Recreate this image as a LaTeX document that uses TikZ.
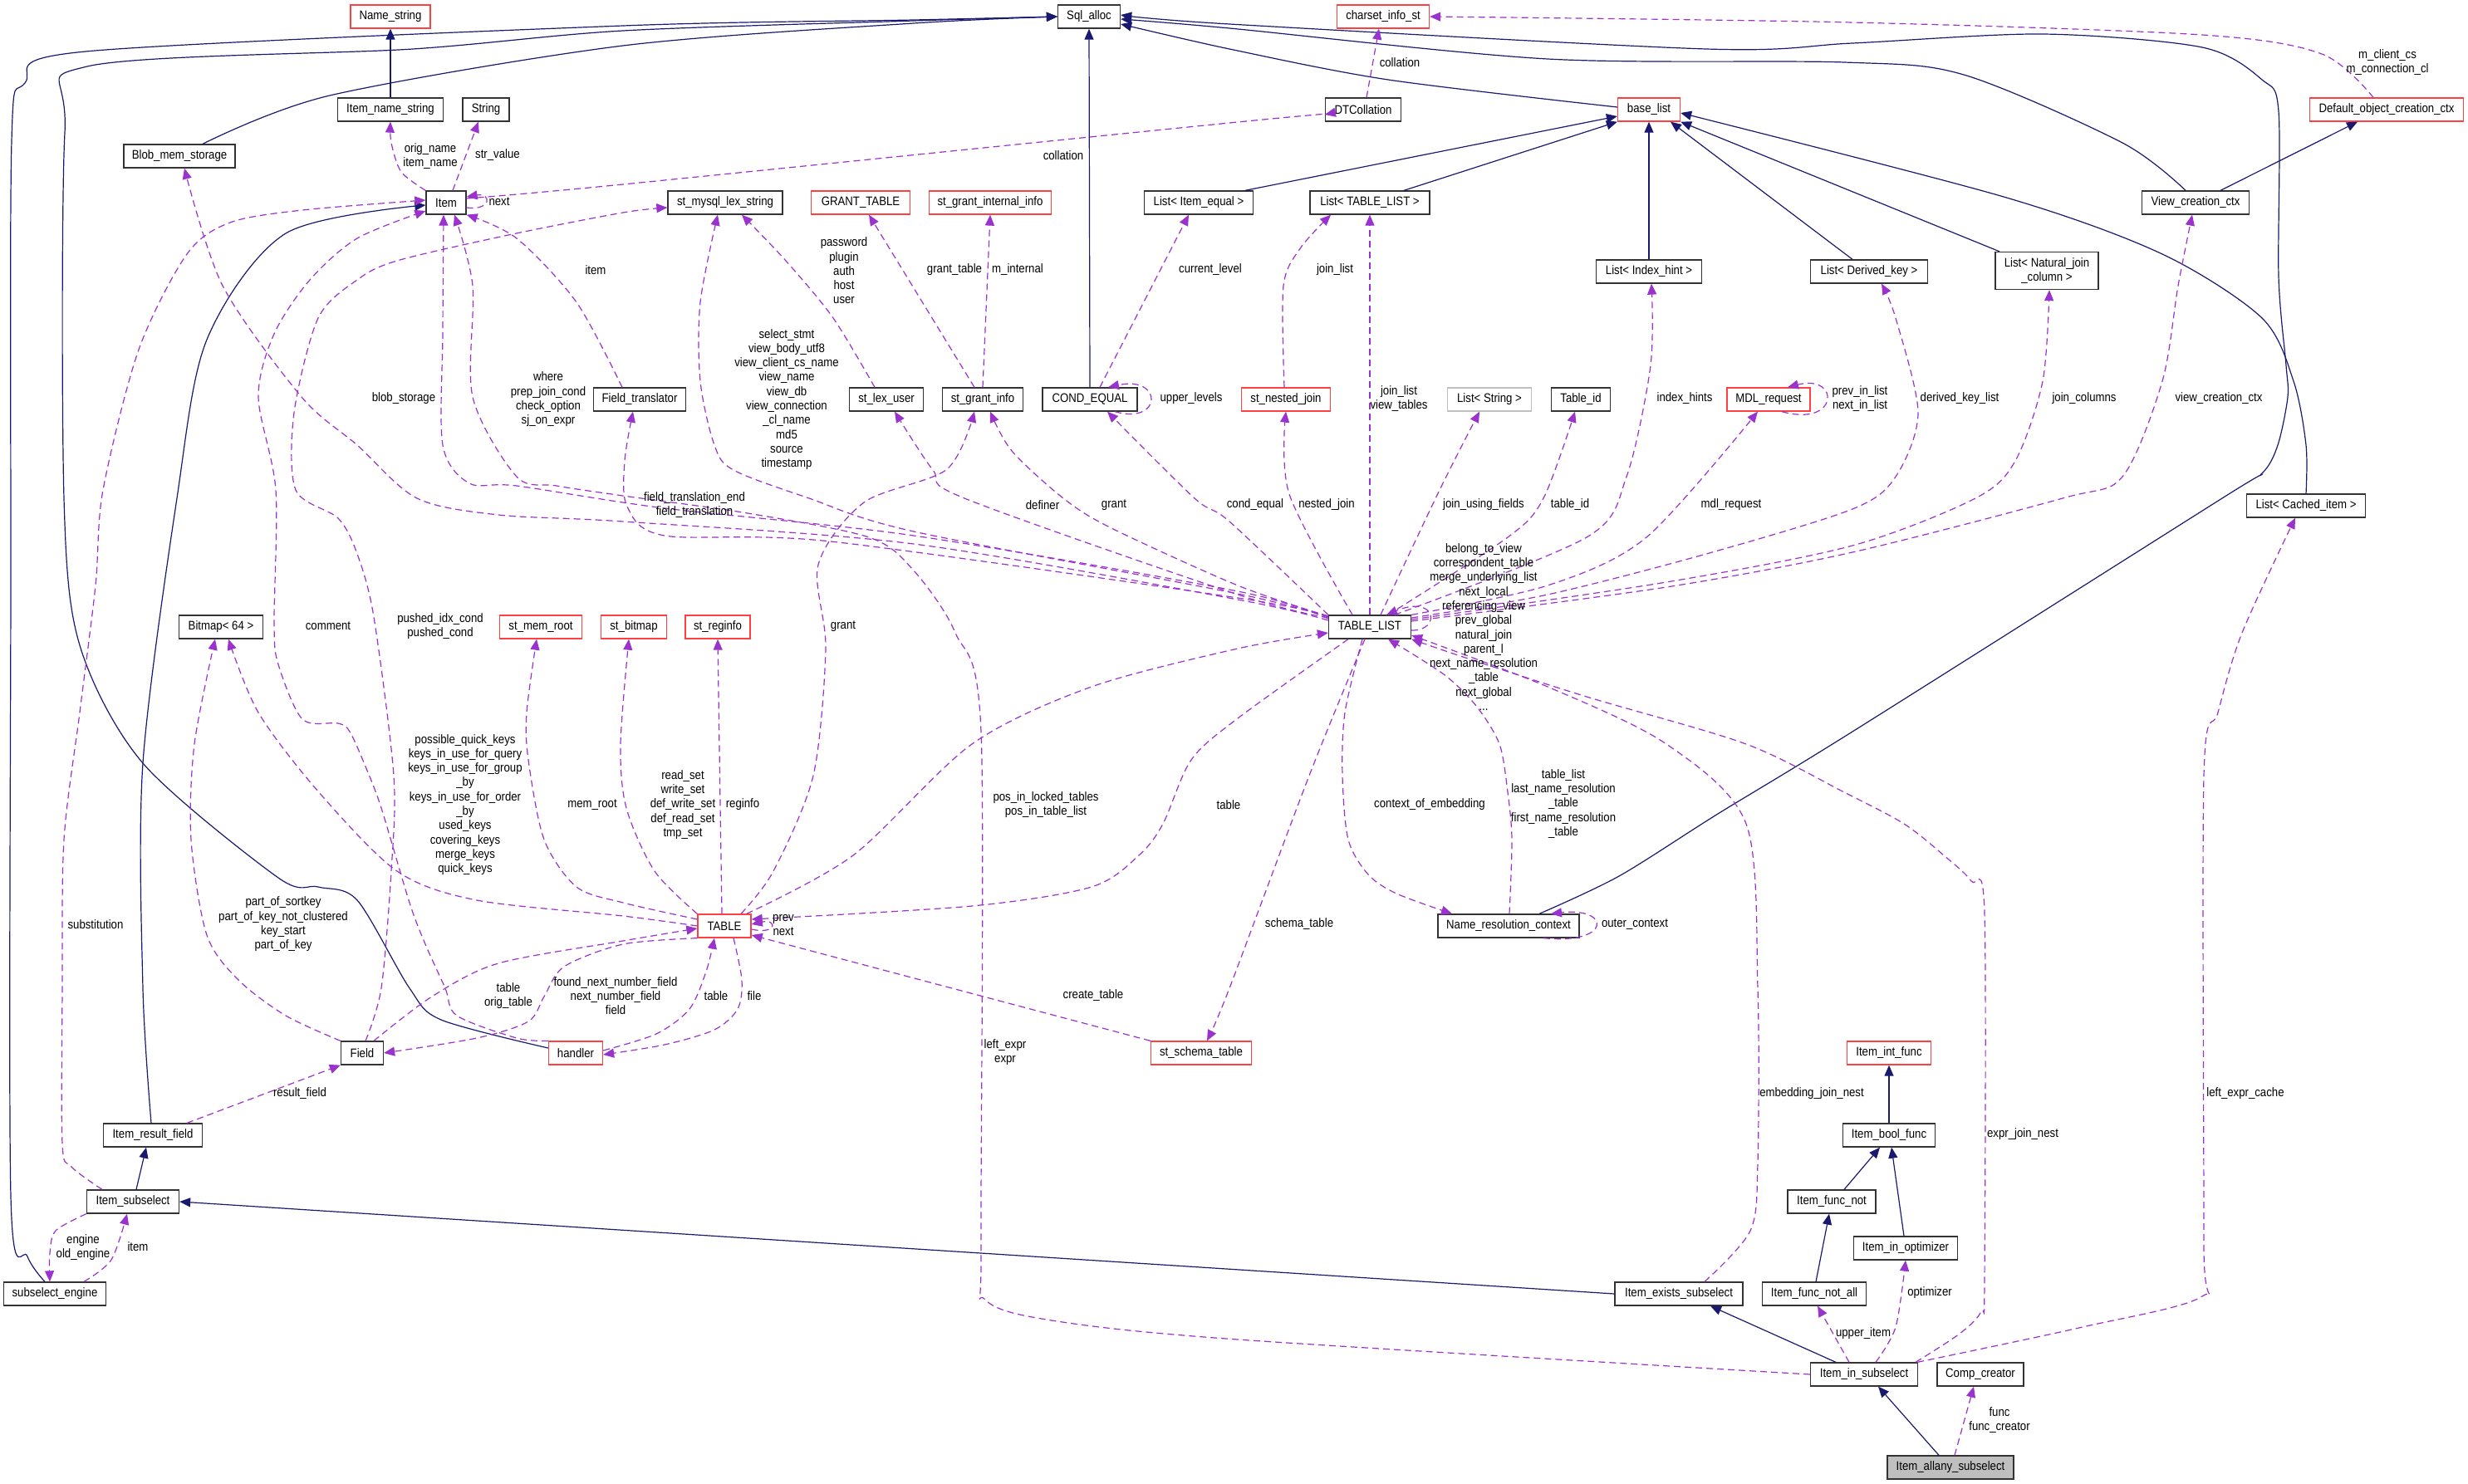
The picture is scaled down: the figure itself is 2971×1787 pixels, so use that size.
\documentclass[tikz,border=0pt]{standalone}
\usepackage{fontspec}
\setmainfont{Liberation Sans}[FakeStretch=0.88]
\usetikzlibrary{arrows.meta}
\definecolor{inhc}{HTML}{191970}
\definecolor{depc}{HTML}{9A32CD}
\definecolor{redb}{HTML}{FF4040}
\definecolor{grayb}{HTML}{BFBFBF}
\newcommand\dgfont{\fontsize{15}{17.3}\selectfont}
\begin{document}
\begin{tikzpicture}[x=1pt,y=-1pt,
  box/.style={draw=black!80, line width=1.3pt, fill=white, minimum height=28pt, inner sep=1pt, text=black, font=\dgfont, align=center},
  rbox/.style={box, draw=redb},
  inh/.style={draw=inhc, line width=1.2pt, -{Triangle[length=13pt,width=11pt]}},
  dep/.style={draw=depc, line width=1.2pt, dash pattern=on 8pt off 5pt, -{Triangle[length=13pt,width=11pt]}},
  lbl/.style={align=center, inner sep=0pt, font=\dgfont, text=black}]
\fill[white] (0,0) rectangle (2971,1787);
\useasboundingbox (0,0) rectangle (2971,1787);

% ---------------- nodes ----------------
\node[rbox, minimum width=96pt] (NameStr) at (470,20) {Name\_string};
\node[box, minimum width=75pt] (SqlAlloc) at (1311,20) {Sql\_alloc};
\node[rbox, minimum width=111pt] (Charset) at (1665,20) {charset\_info\_st};
\node[box, minimum width=127pt] (ItemNameStr) at (470,132) {Item\_name\_string};
\node[box, minimum width=56pt] (StringN) at (585,132) {String};
\node[box, minimum width=91pt] (DTColl) at (1641,132) {DTCollation};
\node[rbox, minimum width=75pt] (BaseList) at (1985,132) {base\_list};
\node[rbox, minimum width=185pt] (DOCC) at (2873,132) {Default\_object\_creation\_ctx};
\node[box, minimum width=134pt] (Blob) at (216,188) {Blob\_mem\_storage};
\node[box, minimum width=48pt] (ItemN) at (537,244) {Item};
\node[box, minimum width=138pt] (StMysql) at (873,244) {st\_mysql\_lex\_string};
\node[rbox, minimum width=119pt] (GrantTable) at (1036,244) {GRANT\_TABLE};
\node[rbox, minimum width=147pt] (StGrantInt) at (1192,244) {st\_grant\_internal\_info};
\node[box, minimum width=131pt] (LItemEq) at (1443,244) {List< Item\_equal >};
\node[box, minimum width=144pt] (LTL) at (1649,244) {List< TABLE\_LIST >};
\node[box, minimum width=129pt] (VCC) at (2643,244) {View\_creation\_ctx};
\node[box, minimum width=127pt] (LIH) at (1985,327) {List< Index\_hint >};
\node[box, minimum width=141pt] (LDK) at (2250,327) {List< Derived\_key >};
\node[box, minimum width=124pt, minimum height=45pt] (LNJ) at (2464,326) {List< Natural\_join\\\_column >};
\node[box, minimum width=111pt] (FieldTr) at (770,481) {Field\_translator};
\node[box, minimum width=89pt] (StLexUser) at (1067,481) {st\_lex\_user};
\node[box, minimum width=97pt] (StGrantInfo) at (1183,481) {st\_grant\_info};
\node[box, minimum width=114pt] (CondEq) at (1312,481) {COND\_EQUAL};
\node[rbox, minimum width=107pt] (StNested) at (1548,481) {st\_nested\_join};
\node[box, draw=grayb, minimum width=101pt] (LString) at (1793,481) {List< String >};
\node[box, minimum width=71pt] (TableId) at (1903,481) {Table\_id};
\node[rbox, minimum width=100pt] (MDL) at (2129,481) {MDL\_request};
\node[box, minimum width=143pt] (LCI) at (2776,609) {List< Cached\_item >};
\node[box, minimum width=101pt] (Bitmap) at (266,755) {Bitmap< 64 >};
\node[rbox, minimum width=99pt] (StMemRoot) at (651,755) {st\_mem\_root};
\node[rbox, minimum width=79pt] (StBitmap) at (763,755) {st\_bitmap};
\node[rbox, minimum width=78pt] (StReginfo) at (864,755) {st\_reginfo};
\node[box, minimum width=99pt] (TableList) at (1649,755) {TABLE\_LIST};
\node[rbox, minimum width=64pt] (TableN) at (872,1115) {TABLE};
\node[box, minimum width=170pt] (NRC) at (1816,1115) {Name\_resolution\_context};
\node[box, minimum width=51pt] (FieldN) at (436,1268) {Field};
\node[rbox, minimum width=65pt] (Handler) at (693,1268) {handler};
\node[rbox, minimum width=121pt] (StSchema) at (1446,1268) {st\_schema\_table};
\node[rbox, minimum width=101pt] (IIntF) at (2274,1268) {Item\_int\_func};
\node[box, minimum width=119pt] (IRF) at (184,1367) {Item\_result\_field};
\node[box, minimum width=111pt] (IBF) at (2274,1367) {Item\_bool\_func};
\node[box, minimum width=111pt] (ISub) at (160,1447) {Item\_subselect};
\node[box, minimum width=106pt] (IFN) at (2205,1447) {Item\_func\_not};
\node[box, minimum width=125pt] (IIO) at (2294,1503) {Item\_in\_optimizer};
\node[box, minimum width=123pt] (SubEng) at (66,1558) {subselect\_engine};
\node[box, minimum width=154pt] (IES) at (2021,1558) {Item\_exists\_subselect};
\node[box, minimum width=125pt] (IFNA) at (2184,1558) {Item\_func\_not\_all};
\node[box, minimum width=129pt] (IIS) at (2244,1655) {Item\_in\_subselect};
\node[box, minimum width=104pt] (Comp) at (2384,1655) {Comp\_creator};
\node[box, fill=grayb, minimum width=152pt] (IAS) at (2348,1767) {Item\_allany\_subselect};

% ---------------- inheritance edges ----------------
\draw[inh] (ItemNameStr.north) -- (NameStr.south);
\draw[inh] plot[smooth] coordinates {([xshift=28pt]Blob.north) (397,115) (750,55) (1100,28) (SqlAlloc.west)};
\draw[inh] plot[smooth] coordinates {([xshift=-12pt]SubEng.north) (33,1513) (13,1440) (13,700) (14,170) (30,100) (103,62) (750,31) (1100,24) (SqlAlloc.west)};
\draw[inh] plot[smooth] coordinates {([yshift=6pt]Handler.west) (531,1228) (493,1190) (430,1084) (383,1068) (335,1057) (172,919) (96,777) (77,600) (78,160) (105,80) (497,59) (750,37) (1100,25) (SqlAlloc.west)};
\draw[inh] plot[smooth] coordinates {([xshift=-2pt]IRF.north) (172,1190) (172,919) (213,600) (249,409) (344,281) ([yshift=-3pt]ItemN.west)};
\draw[inh] ([xshift=4pt]ISub.north) -- ([xshift=-8pt]IRF.south);
\draw[inh] (IES.west) -- (ISub.east);
\draw[inh] (CondEq.north) -- (SqlAlloc.south);
\draw[inh] plot[smooth] coordinates {([yshift=3pt]BaseList.west) (1671,96) (1480,59) ([yshift=-9pt]SqlAlloc.east)};
\draw[inh] plot[smooth] coordinates {([xshift=-12pt]VCC.north) (2555,172) (2364,90) (2220,75) (1863,71) (1480,34) ([yshift=-3pt]SqlAlloc.east)};
\draw[inh] plot[smooth] coordinates {([xshift=37pt]NRC.north) (1949,1055) (2068,980) (2230,881) (2675,600) (2723,570) (2742,536) (2754,478) (2752,440) (2743,333) (2743,134) (2723,96) (2651,57) (2459,41) (2230,52) (2054,59) (1480,29) ([yshift=2pt]SqlAlloc.east)};
\draw[inh] ([xshift=56pt]LItemEq.north) -- ([yshift=-8pt]BaseList.west);
\draw[inh] ([xshift=41pt]LTL.north) -- (BaseList.south west);
\draw[inh] (LIH.north) -- (BaseList.south);
\draw[inh] ([xshift=-20pt]LDK.north) -- ([xshift=26pt]BaseList.south);
\draw[inh] ([xshift=-57pt]LNJ.north) -- (BaseList.south east);
\draw[inh] plot[smooth] coordinates {(LCI.north) (2776,536) (2761,459) (2723,383) (2603,306) (2412,237) ([yshift=-4pt]BaseList.east)};
\draw[inh] ([xshift=30pt]VCC.north) -- ([xshift=-35pt]DOCC.south);
\draw[inh] ([xshift=15pt]IFN.north) -- ([xshift=-11pt]IBF.south);
\draw[inh] ([xshift=2pt]IFNA.north) -- ([xshift=-3pt]IFN.south);
\draw[inh] ([xshift=-2pt]IIO.north) -- ([xshift=3pt]IBF.south);
\draw[inh] (IBF.north) -- (IIntF.south);
\draw[inh] ([xshift=-34pt]IIS.north) -- ([xshift=38pt]IES.south);
\draw[inh] ([xshift=-14pt]IAS.north) -- ([xshift=17pt]IIS.south);

% ---------------- usage edges ----------------
\draw[dep] plot[smooth] coordinates {(ItemN.north west) (483,207) (471,172) (ItemNameStr.south)};
\draw[dep] ([xshift=8pt]ItemN.north) -- ([xshift=-9pt]StringN.south);
\draw[dep] ([yshift=-6pt]ItemN.east) .. controls (592,254) and (592,232) .. ([yshift=7pt]ItemN.east);
\draw[dep] plot[smooth] coordinates {([yshift=5pt]ItemN.east) (750,222) (1490,147) ([yshift=-6pt]DTColl.west)};
\draw[dep] ([xshift=4pt]DTColl.north) -- ([xshift=-5pt]Charset.south);
\draw[dep] plot[smooth] coordinates {([xshift=-16pt]DOCC.north) (2795,65) (2651,42) (2230,27) (Charset.east)};
\draw[dep] plot[smooth] coordinates {([xshift=-21pt]FieldTr.north) (694,364) (622,287) (ItemN.south east)};
\draw[dep] plot[smooth] coordinates {([yshift=10pt]TableList.west) (1490,712) (1100,645) (800,612) (622,585) (565,582) (533,536) (533,400) ([xshift=-3pt]ItemN.south)};
\draw[dep] plot[smooth] coordinates {([yshift=8pt]TableList.west) (1490,722) (1100,655) (750,628) (600,620) (502,600) (430,536) (363,478) (268,344) ([xshift=6pt]Blob.south)};
\draw[dep] plot[smooth] coordinates {([yshift=12pt]TableList.west) (1490,715) (1100,640) (974,600) (883,566) (860,536) (843,459) (843,364) ([xshift=-9pt]StMysql.south)};
\draw[dep] plot[smooth] coordinates {([xshift=-14pt]StLexUser.north) (1003,383) (946,314) ([xshift=20pt]StMysql.south)};
\draw[dep] ([xshift=-10pt]StGrantInfo.north) -- ([xshift=10pt]GrantTable.south);
\draw[dep] (StGrantInfo.north) -- (StGrantInt.south);
\draw[dep] ([xshift=12pt]CondEq.north) -- ([xshift=-12pt]LItemEq.south);
\draw[dep] ([xshift=30pt]CondEq.south) .. controls (1400,512) and (1400,452) .. ([xshift=22pt]CondEq.north);
\draw[dep] plot[smooth] coordinates {([xshift=-2pt]StNested.north) (1545,344) (1566,298) ([xshift=-47pt]LTL.south)};
\draw[dep] (TableList.north) -- (LTL.south);
\draw[dep] plot[smooth] coordinates {([xshift=-21pt]TableList.north) (1552,595) (StNested.south)};
\draw[dep] plot[smooth] coordinates {(TableList.north west) (1480,628) (1438,600) ([xshift=21pt]CondEq.south)};
\draw[dep] plot[smooth] coordinates {([xshift=13pt]TableList.north) (1733,590) ([xshift=-12pt]LString.south)};
\draw[dep] plot[smooth] coordinates {([xshift=22pt]TableList.north) (1815,647) (1858,600) ([xshift=-7pt]TableId.south)};
\draw[dep] plot[smooth] coordinates {([xshift=30pt]TableList.north) (1910,647) (1958,574) (1987,440) ([xshift=3pt]LIH.south)};
\draw[dep] plot[smooth] coordinates {(TableList.north east) (1863,705) (1982,647) ([xshift=-13pt]MDL.south)};
\draw[dep] ([xshift=16pt]MDL.south) .. controls (2215,515) and (2215,450) .. ([xshift=23pt]MDL.north);
\draw[dep] plot[smooth] coordinates {([yshift=11pt]TableList.east) (1863,716) (2054,667) (2230,613) (2282,574) (2309,497) (2282,383) ([xshift=15pt]LDK.south)};
\draw[dep] plot[smooth] coordinates {([yshift=9pt]TableList.east) (2006,701) (2230,657) (2378,600) (2426,555) (2459,459) ([xshift=3pt]LNJ.south)};
\draw[dep] plot[smooth] coordinates {([yshift=7pt]TableList.east) (2006,707) (2230,665) (2483,600) (2555,574) (2603,459) (2622,344) ([xshift=-4pt]VCC.south)};
\draw[dep] ([yshift=-4pt]TableList.east) .. controls (1735,760) and (1730,715) .. ([xshift=20pt]TableList.north);
\draw[dep] plot[smooth] coordinates {([yshift=13pt]TableList.west) (1490,720) (1000,652) (800,645) (755,610) (752,555) ([xshift=-8pt]FieldTr.south)};
\draw[dep] plot[smooth] coordinates {([yshift=11pt]TableList.west) (1490,716) (1161,600) (1123,566) ([xshift=10pt]StLexUser.south)};
\draw[dep] plot[smooth] coordinates {([yshift=13pt]TableList.west) (1490,705) (1338,636) (1280,600) (1218,543) ([xshift=9pt]StGrantInfo.south)};
\draw[dep] plot[smooth] coordinates {([xshift=20pt]TableN.north) (931,1049) (979,934) (994,781) (985,680) (1040,605) (1140,565) ([xshift=-10pt]StGrantInfo.south)};
\draw[dep] plot[smooth] coordinates {(TableN.west) (750,1103) (574,1084) (478,1049) (383,953) (311,858) ([xshift=9pt]Bitmap.south)};
\draw[dep] plot[smooth] coordinates {([yshift=8pt]TableN.west) (750,1087) (694,1068) (655,1011) (636,915) (634,858) ([xshift=-5pt]StMemRoot.south)};
\draw[dep] plot[smooth] coordinates {(TableN.north west) (788,1049) (754,973) (747,896) ([xshift=-6pt]StBitmap.south)};
\draw[dep] ([xshift=-3pt]TableN.north) -- (StReginfo.south);
\draw[dep] ([yshift=-4pt]TableN.east) .. controls (936,1126) and (936,1106) .. ([yshift=2pt]TableN.east);
\draw[dep] plot[smooth] coordinates {([xshift=-6pt]TableN.north east) (1027,1030) (1170,896) (1314,827) (1490,781) ([yshift=-7pt]TableList.west)};
\draw[dep] plot[smooth] coordinates {([xshift=-26pt]TableList.south) (1490,865) (1434,915) (1400,992) (1371,1030) (1314,1068) (1170,1091) ([yshift=8pt]TableN.east)};
\draw[dep] (StSchema.north west) -- ([yshift=-11pt]TableN.east);
\draw[dep] plot[smooth] coordinates {([xshift=-6pt]TableList.south) (1576,934) (1480,1190) ([xshift=7pt]StSchema.north)};
\draw[dep] plot[smooth] coordinates {([xshift=-9pt]TableList.south) (1619,858) (1616,934) (1623,1011) (1647,1053) (1681,1076) ([xshift=-68pt]NRC.north)};
\draw[dep] plot[smooth] coordinates {([xshift=1pt]NRC.north) (1820,1011) (1815,954) (1805,896) (1777,850) (1738,812) ([xshift=22pt]TableList.south)};
\draw[dep] ([xshift=42pt]NRC.south) .. controls (1940,1138) and (1940,1092) .. ([xshift=51pt]NRC.north);
\draw[dep] plot[smooth] coordinates {([xshift=31pt]IES.north) (2107,1482) (2116,1400) (2116,1190) (2102,992) (2006,896) (1863,827) ([yshift=-10pt]TableList.east)};
\draw[dep] plot[smooth] coordinates {([xshift=62pt]IIS.north) (2359,1606) (2385,1579) (2389,1540) (2389,1099) (2373,1061) (2340,1030) (2292,992) (2220,954) (2102,896) (1910,839) (1767,793) (TableList.south east)};
\draw[dep] plot[smooth] coordinates {([xshift=64pt]IIS.north) (2507,1598) (2651,1561) (2653,1500) (2653,934) (2670,858) (2699,762) ([xshift=-13pt]LCI.south)};
\draw[dep] plot[smooth] coordinates {([xshift=14pt]IIS.north) (2282,1598) (IIO.south)};
\draw[dep] ([xshift=-18pt]IIS.north) -- ([xshift=4pt]IFNA.south);
\draw[dep] ([xshift=5pt]IAS.north) -- ([xshift=-8pt]Comp.south);
\draw[dep] plot[smooth] coordinates {(IIS.west) (1490,1613) (1266,1590) (1186,1565) (1181,1500) (1181,881) (1150,762) (1099,686) (1046,647) (900,618) (750,597) (670,585) (622,574) (569,478) (569,344) ([xshift=10pt]ItemN.south)};
\draw[dep] plot[smooth] coordinates {([xshift=-37pt]ISub.north) (86,1405) (75,1377) (75,1190) (77,1011) (96,858) (115,705) (124,590) (167,421) (225,306) (277,268) (364,253) ([yshift=3pt]ItemN.west)};
\draw[dep] plot[smooth] coordinates {(Handler.north west) (622,1250) (550,1223) (536,1190) (512,1137) (493,1087) (459,973) (440,923) (421,881) (407,871) (364,866) (335,800) (330,751) (332,590) (311,478) (330,402) (373,337) (430,287) ([yshift=-10pt]ItemN.west)};
\draw[dep] plot[smooth] coordinates {([xshift=4pt]FieldN.north) (459,1190) (471,1049) (474,934) (450,743) (430,667) (407,624) (356,590) (354,497) (383,383) (430,337) (478,314) (612,283) (750,256) ([yshift=-6pt]StMysql.west)};
\draw[dep] ([xshift=41pt]IRF.north) -- (FieldN.south west);
\draw[dep] plot[smooth] coordinates {(FieldN.north west) (344,1223) (287,1180) (249,1126) (230,1011) (234,896) ([xshift=-7pt]Bitmap.south)};
\draw[dep] plot[smooth] coordinates {([xshift=14pt]FieldN.north) (520,1200) (600,1160) (750,1133) ([yshift=-3pt]TableN.west)};
\draw[dep] plot[smooth] coordinates {(TableN.south west) (750,1137) (679,1164) (655,1200) (636,1230) (574,1250) (FieldN.east)};
\draw[dep] plot[smooth] coordinates {([yshift=3pt]Handler.east) (790,1245) (830,1215) (850,1170) ([xshift=-12pt]TableN.south)};
\draw[dep] plot[smooth] coordinates {([xshift=11pt]TableN.south) (893,1180) (888,1215) (860,1240) (800,1258) ([yshift=-2pt]Handler.east)};
\draw[dep] plot[smooth] coordinates {(ISub.south west) (67,1482) (60,1509) ([xshift=-6pt]SubEng.north)};
\draw[dep] plot[smooth] coordinates {([xshift=35pt]SubEng.north) (134,1517) ([xshift=-7pt]ISub.south)};

% ---------------- labels ----------------
\node[lbl] (L1) at (518,188) {orig\_name\\item\_name};
\node[lbl] (L2) at (599,187) {str\_value};
\node[lbl] (L3) at (601,243) {next};
\node[lbl] (L4) at (1280,187) {collation};
\node[lbl] (L5) at (1685,75) {collation};
\node[lbl] (L6) at (2874,75) {m\_client\_cs\\m\_connection\_cl};
\node[lbl] (L7) at (717,325) {item};
\node[lbl] (L8) at (660,481) {where\\prep\_join\_cond\\check\_option\\sj\_on\_expr};
\node[lbl] (L9) at (486,480) {blob\_storage};
\node[lbl] (L10) at (947,481) {select\_stmt\\view\_body\_utf8\\view\_client\_cs\_name\\view\_name\\view\_db\\view\_connection\\\_cl\_name\\md5\\source\\timestamp};
\node[lbl] (L11) at (1016,326) {password\\plugin\\auth\\host\\user};
\node[lbl] (L12) at (1149,325) {grant\_table};
\node[lbl] (L13) at (1225,325) {m\_internal};
\node[lbl] (L14) at (1457,325) {current\_level};
\node[lbl] (L15) at (1434,480) {upper\_levels};
\node[lbl] (L16) at (1607,325) {join\_list};
\node[lbl] (L17) at (1684,480) {join\_list\\view\_tables};
\node[lbl] (L18) at (1597,608) {nested\_join};
\node[lbl] (L19) at (1511,608) {cond\_equal};
\node[lbl] (L20) at (1786,608) {join\_using\_fields};
\node[lbl] (L21) at (1890,608) {table\_id};
\node[lbl] (L22) at (2028,480) {index\_hints};
\node[lbl] (L23) at (2084,608) {mdl\_request};
\node[lbl] (L24) at (2239,480) {prev\_in\_list\\next\_in\_list};
\node[lbl] (L25) at (2359,480) {derived\_key\_list};
\node[lbl] (L26) at (2509,480) {join\_columns};
\node[lbl] (L27) at (2671,480) {view\_creation\_ctx};
\node[lbl] (L28) at (1786,755) {belong\_to\_view\\correspondent\_table\\merge\_underlying\_list\\next\_local\\referencing\_view\\prev\_global\\natural\_join\\parent\_l\\next\_name\_resolution\\\_table\\next\_global\\...};
\node[lbl] (L29) at (836,608) {field\_translation\_end\\field\_translation};
\node[lbl] (L30) at (1255,608) {definer};
\node[lbl] (L31) at (1341,608) {grant};
\node[lbl] (L32) at (1015,754) {grant};
\node[lbl] (L33) at (560,969) {possible\_quick\_keys\\keys\_in\_use\_for\_query\\keys\_in\_use\_for\_group\\\_by\\keys\_in\_use\_for\_order\\\_by\\used\_keys\\covering\_keys\\merge\_keys\\quick\_keys};
\node[lbl] (L34) at (713,969) {mem\_root};
\node[lbl] (L35) at (822,969) {read\_set\\write\_set\\def\_write\_set\\def\_read\_set\\tmp\_set};
\node[lbl] (L36) at (894,969) {reginfo};
\node[lbl] (L37) at (943,1114) {prev\\next};
\node[lbl] (L38) at (1259,969) {pos\_in\_locked\_tables\\pos\_in\_table\_list};
\node[lbl] (L39) at (1479,969) {table};
\node[lbl] (L40) at (1316,1199) {create\_table};
\node[lbl] (L41) at (1564,1113) {schema\_table};
\node[lbl] (L42) at (1721,969) {context\_of\_embedding};
\node[lbl] (L43) at (1882,968) {table\_list\\last\_name\_resolution\\\_table\\first\_name\_resolution\\\_table};
\node[lbl] (L44) at (1968,1113) {outer\_context};
\node[lbl] (L45) at (2181,1317) {embedding\_join\_nest};
\node[lbl] (L46) at (2435,1366) {expr\_join\_nest};
\node[lbl] (L47) at (2703,1317) {left\_expr\_cache};
\node[lbl] (L48) at (2323,1557) {optimizer};
\node[lbl] (L49) at (2243,1606) {upper\_item};
\node[lbl] (L50) at (2407,1710) {func\\func\_creator};
\node[lbl] (L51) at (1210,1267) {left\_expr\\expr};
\node[lbl] (L52) at (115,1113) {substitution};
\node[lbl] (L53) at (530,754) {pushed\_idx\_cond\\pushed\_cond};
\node[lbl] (L54) at (395,754) {comment};
\node[lbl] (L55) at (361,1317) {result\_field};
\node[lbl] (L56) at (341,1113) {part\_of\_sortkey\\part\_of\_key\_not\_clustered\\key\_start\\part\_of\_key};
\node[lbl] (L57) at (612,1199) {table\\orig\_table};
\node[lbl] (L58) at (741,1199) {found\_next\_number\_field\\next\_number\_field\\field};
\node[lbl] (L59) at (862,1199) {table};
\node[lbl] (L60) at (908,1199) {file};
\node[lbl] (L61) at (100,1502) {engine\\old\_engine};
\node[lbl] (L62) at (166,1501) {item};
\end{tikzpicture}
\end{document}
